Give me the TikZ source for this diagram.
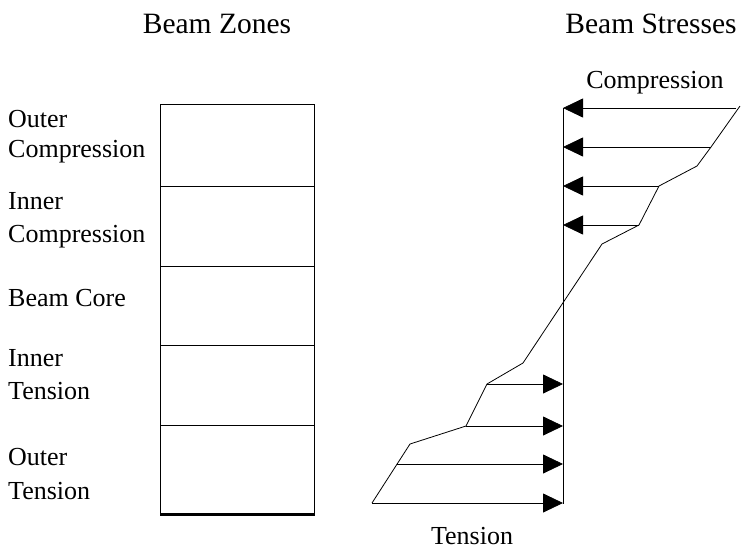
\documentclass[tikz,border=0pt]{standalone}
\usepackage{fontspec}
\setmainfont{Liberation Serif}
\usetikzlibrary{arrows.meta}
\begin{document}
\begin{tikzpicture}[x=1pt,y=-1pt,
  lbl/.style={inner sep=0pt,anchor=base west,font=\fontsize{26}{31}\selectfont},
  ttl/.style={inner sep=0pt,anchor=base,font=\fontsize{29.5}{34}\selectfont},
  sublbl/.style={inner sep=0pt,anchor=base,font=\fontsize{26}{31}\selectfont},
  zone/.style={draw=black,line width=1pt},
  force/.style={draw=black,line width=0.8pt,-{Triangle[length=20pt,width=19pt]}},
  profile/.style={draw=black,line width=0.8pt,line join=miter}
]
\useasboundingbox (0,0) rectangle (747,550);
% titles
\node[ttl] (tz) at (217,33) {Beam Zones};
\node[ttl] (ts) at (651,33) {Beam Stresses};
% zone labels
\node[lbl] (l1a) at (8,127) {Outer};
\node[lbl] (l1b) at (8,157) {Compression};
\node[lbl] (l2a) at (8,209) {Inner};
\node[lbl] (l2b) at (8,242) {Compression};
\node[lbl] (l3) at (8,306) {Beam Core};
\node[lbl] (l4a) at (8,366) {Inner};
\node[lbl] (l4b) at (8,399) {Tension};
\node[lbl] (l5a) at (8,465) {Outer};
\node[lbl] (l5b) at (8,499) {Tension};
% zone boxes
\node[zone,minimum width=154pt,minimum height=82pt,anchor=north west,inner sep=0pt] (z1) at (160,104) {};
\node[zone,minimum width=154pt,minimum height=80pt,anchor=north west,inner sep=0pt] (z2) at (160,186) {};
\node[zone,minimum width=154pt,minimum height=79pt,anchor=north west,inner sep=0pt] (z3) at (160,266) {};
\node[zone,minimum width=154pt,minimum height=80pt,anchor=north west,inner sep=0pt] (z4) at (160,345) {};
\node[zone,minimum width=154pt,minimum height=88pt,anchor=north west,inner sep=0pt] (z5) at (160,425) {};
\draw[line width=3pt] (z5.south west) -- (z5.south east);
% stress axis
\coordinate (axT) at (563,108);
\coordinate (axB) at (563,504);
\draw[line width=1pt] (axT) -- (axB);
% profile points
\coordinate (p1) at (740,106);
\coordinate (p2) at (711,147);
\coordinate (p3) at (697,166);
\coordinate (p4) at (659,186);
\coordinate (p5) at (639,225);
\coordinate (p6) at (602,244);
\coordinate (p7) at (523,363);
\coordinate (p8) at (487,384);
\coordinate (p9) at (466,426);
\coordinate (p10) at (410,444);
\coordinate (p11) at (372,503);
\draw[profile] (p1) -- (p2) -- (p3) -- (p4) -- (p5) -- (p6) -- (p7) -- (p8) -- (p9) -- (p10) -- (p11);
% compression arrows
\coordinate (c1s) at (736,108); \coordinate (c1e) at (563,108);
\coordinate (c2e) at (563,147);
\coordinate (c3e) at (563,186);
\coordinate (c4e) at (563,225);
\coordinate (c4s) at (639,225);
\draw[force] (c1s) -- (c1e);
\draw[force] (p2) -- (c2e);
\draw[force] (p4) -- (c3e);
\draw[force] (c4s) -- (c4e);
% tension arrows
\coordinate (t1e) at (563,384);
\coordinate (t2e) at (563,426);
\coordinate (t3s) at (397,464); \coordinate (t3e) at (563,464);
\coordinate (t4e) at (563,503);
\draw[force] (p8) -- (t1e);
\draw[force] (p9) -- (t2e);
\draw[force] (t3s) -- (t3e);
\draw[force] (p11) -- (t4e);
% labels
\node[sublbl] (cmp) at (655,88) {Compression};
\node[sublbl] (ten) at (472,544) {Tension};
\end{tikzpicture}
\end{document}
